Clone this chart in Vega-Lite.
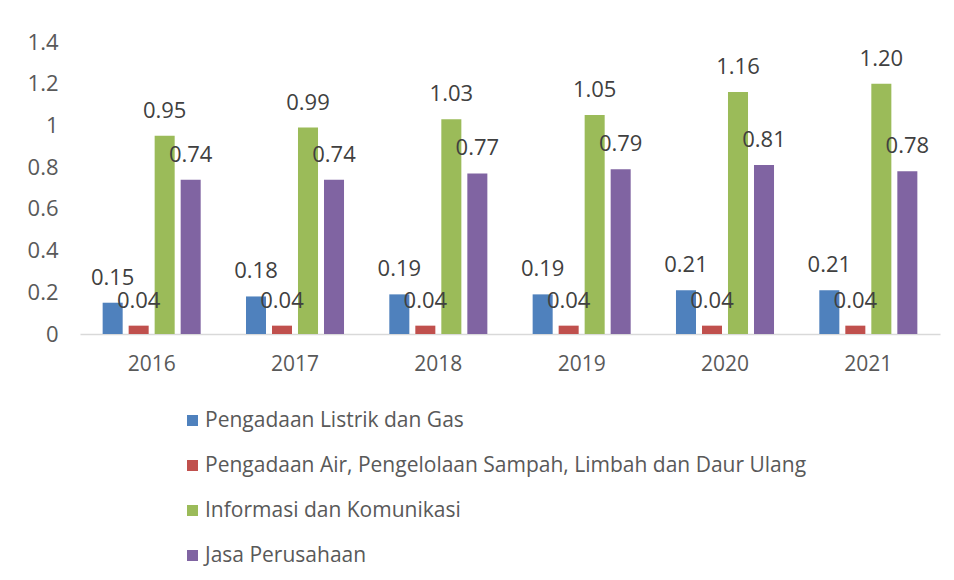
{
  "$schema": "https://vega.github.io/schema/vega-lite/v6.json",
  "width": 860,
  "height": 292,
  "autosize": {"type": "none"},
  "padding": {"left": 80, "top": 42, "right": 14, "bottom": 246},
  "background": "white",
  "config": {
    "view": {"stroke": null},
    "font": "Open Sans",
    "text": {"font": "Open Sans"}
  },
  "data": {
    "values": [
      {"year": "2016", "sector": "Pengadaan Listrik dan Gas", "value": 0.15},
      {"year": "2016", "sector": "Pengadaan Air, Pengelolaan Sampah, Limbah dan Daur Ulang", "value": 0.04},
      {"year": "2016", "sector": "Informasi dan Komunikasi", "value": 0.95},
      {"year": "2016", "sector": "Jasa Perusahaan", "value": 0.74},
      {"year": "2017", "sector": "Pengadaan Listrik dan Gas", "value": 0.18},
      {"year": "2017", "sector": "Pengadaan Air, Pengelolaan Sampah, Limbah dan Daur Ulang", "value": 0.04},
      {"year": "2017", "sector": "Informasi dan Komunikasi", "value": 0.99},
      {"year": "2017", "sector": "Jasa Perusahaan", "value": 0.74},
      {"year": "2018", "sector": "Pengadaan Listrik dan Gas", "value": 0.19},
      {"year": "2018", "sector": "Pengadaan Air, Pengelolaan Sampah, Limbah dan Daur Ulang", "value": 0.04},
      {"year": "2018", "sector": "Informasi dan Komunikasi", "value": 1.03},
      {"year": "2018", "sector": "Jasa Perusahaan", "value": 0.77},
      {"year": "2019", "sector": "Pengadaan Listrik dan Gas", "value": 0.19},
      {"year": "2019", "sector": "Pengadaan Air, Pengelolaan Sampah, Limbah dan Daur Ulang", "value": 0.04},
      {"year": "2019", "sector": "Informasi dan Komunikasi", "value": 1.05},
      {"year": "2019", "sector": "Jasa Perusahaan", "value": 0.79},
      {"year": "2020", "sector": "Pengadaan Listrik dan Gas", "value": 0.21},
      {"year": "2020", "sector": "Pengadaan Air, Pengelolaan Sampah, Limbah dan Daur Ulang", "value": 0.04},
      {"year": "2020", "sector": "Informasi dan Komunikasi", "value": 1.16},
      {"year": "2020", "sector": "Jasa Perusahaan", "value": 0.81},
      {"year": "2021", "sector": "Pengadaan Listrik dan Gas", "value": 0.21},
      {"year": "2021", "sector": "Pengadaan Air, Pengelolaan Sampah, Limbah dan Daur Ulang", "value": 0.04},
      {"year": "2021", "sector": "Informasi dan Komunikasi", "value": 1.20},
      {"year": "2021", "sector": "Jasa Perusahaan", "value": 0.78}
    ]
  },
  "encoding": {
    "x": {
      "field": "year", "type": "nominal",
      "scale": {"paddingInner": 0.316, "paddingOuter": 0.158},
      "axis": {
        "title": null, "labelAngle": 0, "labelFontSize": 21, "labelColor": "#595959",
        "labelPadding": 19, "ticks": false, "domainColor": "#d9d9d9", "domainWidth": 1.5,
        "labelFont": "Open Sans"
      }
    },
    "xOffset": {
      "field": "sector", "type": "nominal",
      "sort": ["Pengadaan Listrik dan Gas", "Pengadaan Air, Pengelolaan Sampah, Limbah dan Daur Ulang", "Informasi dan Komunikasi", "Jasa Perusahaan"],
      "scale": {"paddingInner": 0.23, "paddingOuter": 0}
    },
    "y": {
      "field": "value", "type": "quantitative",
      "scale": {"domain": [0, 1.4], "nice": false},
      "axis": {
        "title": null, "values": [0, 0.2, 0.4, 0.6, 0.8, 1, 1.2, 1.4], "format": "~g",
        "labelFontSize": 22, "labelColor": "#595959", "labelPadding": 22,
        "ticks": false, "domain": false, "grid": false, "labelFont": "Open Sans"
      }
    }
  },
  "layer": [
    {
      "mark": {"type": "bar"},
      "encoding": {
        "color": {
          "field": "sector", "type": "nominal",
          "sort": ["Pengadaan Listrik dan Gas", "Pengadaan Air, Pengelolaan Sampah, Limbah dan Daur Ulang", "Informasi dan Komunikasi", "Jasa Perusahaan"],
          "scale": {
            "domain": ["Pengadaan Listrik dan Gas", "Pengadaan Air, Pengelolaan Sampah, Limbah dan Daur Ulang", "Informasi dan Komunikasi", "Jasa Perusahaan"],
            "range": ["#4F81BD", "#C0504D", "#9BBB59", "#8064A2"]
          },
          "legend": {
            "title": null, "orient": "none", "legendX": 102, "legendY": 368,
            "direction": "vertical", "symbolType": "square", "symbolSize": 121,
            "symbolStrokeWidth": 0, "labelFontSize": 21, "labelColor": "#595959",
            "labelFont": "Open Sans", "rowPadding": 23, "labelOffset": 2, "labelLimit": 700
          }
        }
      }
    },
    {
      "mark": {"type": "text", "baseline": "alphabetic", "dy": -18, "fontSize": 22, "color": "#404040", "font": "Open Sans"},
      "encoding": {
        "text": {"field": "value", "type": "quantitative", "format": ".2f"}
      }
    }
  ]
}
